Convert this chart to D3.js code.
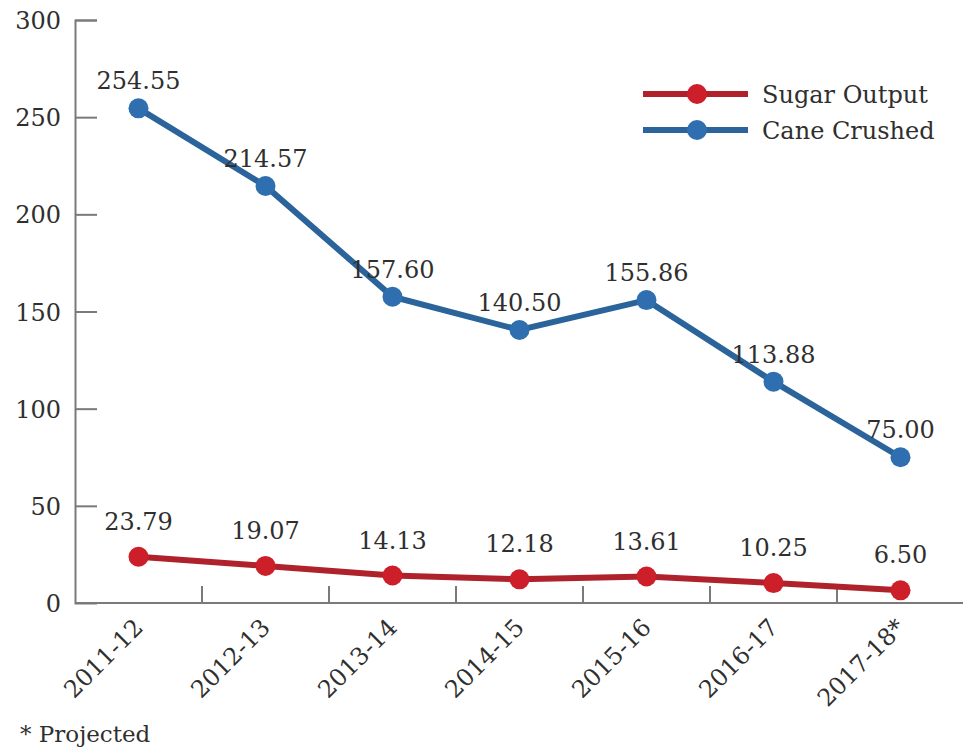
<!DOCTYPE html>
<html>
<head>
<meta charset="utf-8">
<script src="https://cdn.jsdelivr.net/npm/d3@7"></script>
<style>
  body { margin: 0; background: #fff; }
  text { font-family: "DejaVu Serif", serif; fill: #2f2f2f; }
</style>
</head>
<body>
<svg id="chart" width="963" height="749"></svg>
<script>
const seasons = ["2011-12", "2012-13", "2013-14", "2014-15", "2015-16", "2016-17", "2017-18*"]
const caneCrushed = [254.55, 214.57, 157.60, 140.50, 155.86, 113.88, 75.00]
const sugarOutput = [23.79, 19.07, 14.13, 12.18, 13.61, 10.25, 6.50]
const yTicks = [0, 50, 100, 150, 200, 250, 300]
const seriesNames = ["Sugar Output", "Cane Crushed"]

const svg = d3.select("#chart")
const plotLeft = 75, plotRight = 964, plotTop = 20, plotBottom = 603

const x = d3.scaleBand().domain(seasons).range([plotLeft, plotRight])
const y = d3.scaleLinear().domain([0, 300]).range([plotBottom, plotTop])

const axisColour = "#7a7a7a"
// line colour, marker colour
const red = ["#b0222b", "#cc1f2a"], blue = ["#2b639b", "#2f6fb0"]

// y axis
const yAxis = svg.append("g")
    .attr("transform", "translate(" + plotLeft + ",0)")
    .call(d3.axisRight(y).tickValues(yTicks).tickSize(22).tickFormat(""))
yAxis.select(".domain").attr("stroke", axisColour).attr("stroke-width", 2)
yAxis.selectAll(".tick line").attr("stroke", axisColour).attr("stroke-width", 2)
yAxis.selectAll(".tick").filter(d => d === 0).select("line").remove()

svg.append("g").selectAll("text")
    .data(yTicks)
    .join("text")
    .attr("x", 61)
    .attr("y", d => y(d) + 9)
    .attr("text-anchor", "end")
    .attr("font-size", 24)
    .text(d => d)

// x axis with ticks on band edges
svg.append("line")
    .attr("x1", plotLeft).attr("x2", plotRight)
    .attr("y1", plotBottom).attr("y2", plotBottom)
    .attr("stroke", axisColour).attr("stroke-width", 2)
svg.append("g").selectAll("line")
    .data(seasons.slice(1))
    .join("line")
    .attr("x1", d => x(d)).attr("x2", d => x(d))
    .attr("y1", plotBottom).attr("y2", plotBottom - 17)
    .attr("stroke", axisColour).attr("stroke-width", 2)

svg.append("g").selectAll("text")
    .data(seasons)
    .join("text")
    .attr("transform", d => "translate(" + (x(d) + x.bandwidth() / 2 + 6) + "," + (plotBottom + 26) + ") rotate(-45)")
    .attr("text-anchor", "end")
    .attr("font-size", 24)
    .text(d => d)

const cx = d => x(d) + x.bandwidth() / 2
const line = d3.line().x(d => cx(d.season)).y(d => y(d.value))

function drawSeries(values, colours, labelOffset){
    const pts = values.map((v, i) => ({season: seasons[i], value: v}))
    svg.append("path")
        .datum(pts)
        .attr("d", line)
        .attr("fill", "none")
        .attr("stroke", colours[0])
        .attr("stroke-width", 6)
    svg.append("g").selectAll("circle")
        .data(pts)
        .join("circle")
        .attr("cx", d => cx(d.season))
        .attr("cy", d => y(d.value))
        .attr("r", 10)
        .attr("fill", colours[1])
    svg.append("g").selectAll("text")
        .data(pts)
        .join("text")
        .attr("x", d => cx(d.season))
        .attr("y", d => y(d.value) - labelOffset)
        .attr("text-anchor", "middle")
        .attr("font-size", 24)
        .text(d => d.value.toFixed(2))
}

drawSeries(caneCrushed, blue, 19)
drawSeries(sugarOutput, red, 27)

// legend
const legend = svg.append("g")
seriesNames.forEach((name, i) => {
    const ly = 94 + i * 36
    const c = i === 0 ? red : blue
    legend.append("line")
        .attr("x1", 643).attr("x2", 748)
        .attr("y1", ly).attr("y2", ly)
        .attr("stroke", c[0]).attr("stroke-width", 6)
    legend.append("circle")
        .attr("cx", 697).attr("cy", ly).attr("r", 10).attr("fill", c[1])
    legend.append("text")
        .attr("x", 762).attr("y", ly + 9)
        .attr("font-size", 24)
        .text(name)
})

svg.append("text")
    .attr("x", 20).attr("y", 742)
    .attr("font-size", 23)
    .text("* Projected")
</script>
</body>
</html>
